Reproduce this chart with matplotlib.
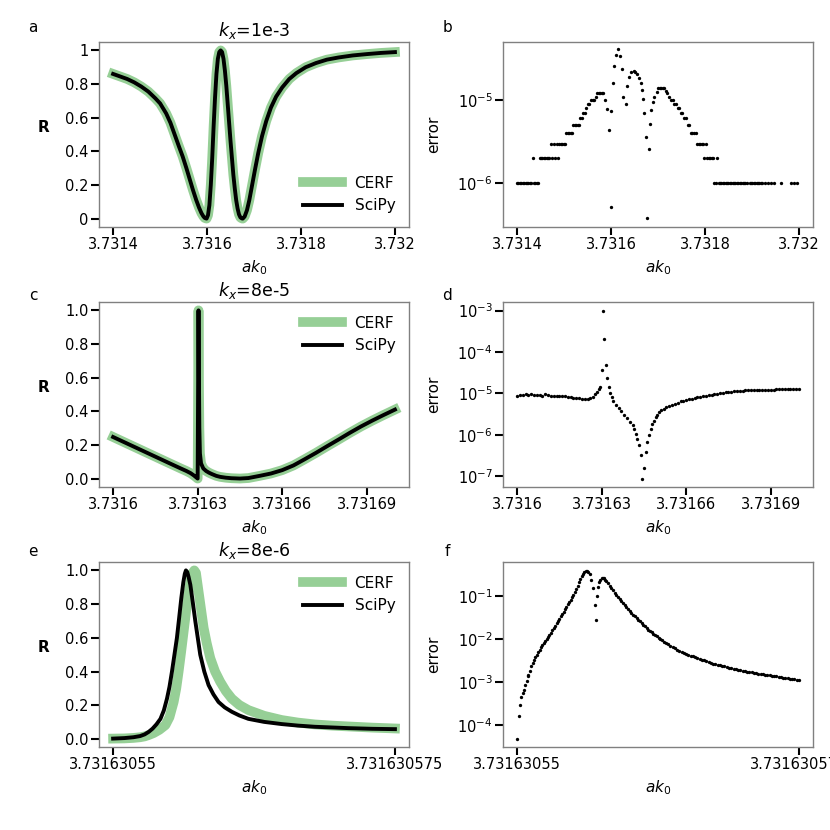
import matplotlib
matplotlib.use('Agg')
import matplotlib.pyplot as plt
import numpy as np
from matplotlib.ticker import NullLocator

# ---- panel a / b : kx = 1e-3, ak0 = 3.7314 + off * 1e-6
a_base = 3.7314
a_off = [0, 15, 30, 45, 60, 75, 90, 100, 113, 122, 131, 140, 148, 156, 163, 170,
         177, 183, 188, 192, 195, 199, 202, 205, 208, 211, 214, 217, 220, 223, 226,
         229, 232, 235, 238, 241, 244, 247, 250, 253, 256, 259, 262, 265, 268, 271,
         274, 276, 280, 285, 290, 296, 302, 309, 317, 326, 336, 347, 360, 375, 390,
         410, 432, 455, 480, 510, 540, 570, 600]
a_R = [0.86, 0.845, 0.83, 0.81, 0.785, 0.755, 0.715, 0.685, 0.625, 0.57, 0.5, 0.43,
       0.37, 0.3, 0.235, 0.17, 0.11, 0.065, 0.033, 0.014, 0.004, 0.0, 0.02, 0.08,
       0.2, 0.36, 0.55, 0.72, 0.86, 0.95, 0.99, 1.0, 0.99, 0.95, 0.88, 0.79, 0.68,
       0.57, 0.46, 0.36, 0.26, 0.18, 0.11, 0.06, 0.025, 0.007, 0.001, 0.0, 0.012,
       0.05, 0.11, 0.2, 0.29, 0.39, 0.49, 0.58, 0.66, 0.725, 0.78, 0.83, 0.865, 0.9,
       0.925, 0.945, 0.958, 0.97, 0.978, 0.985, 0.99]

b_off = [0, 3, 6, 9, 12, 15, 18, 21, 24, 27, 30, 33, 36, 39, 42, 45,
         48, 51, 54, 57, 60, 63, 66, 69, 72, 75, 78, 81, 84, 87, 90, 93, 96, 99, 102,
         105, 108, 111, 114, 117, 120, 123, 126, 129, 132, 135, 138, 141, 144, 147,
         150, 153, 157, 161, 164, 168, 171, 174, 177, 180, 183,
         188, 192, 195, 199, 201, 204, 207, 211, 214, 219, 223, 225, 231, 234, 238,
         243, 248, 252, 256, 259, 263, 266, 268, 271, 275, 276.5, 280, 282, 285, 289,
         292, 297, 301, 304, 307, 310, 313, 317, 320, 323, 328, 331, 335, 338, 342,
         345, 349, 352, 356, 359, 363, 366, 370, 373, 377, 380, 384, 387, 390, 393,
         396, 399, 402, 405, 408, 411, 414, 417, 420, 423, 426, 429, 432, 435, 438,
         441, 444, 447, 450, 453, 456, 459, 462, 465, 468, 471, 474, 477, 480, 483,
         486, 489, 495, 498, 501, 504, 507, 510, 513, 516, 519, 522, 527, 534, 541,
         548, 561, 583, 590, 597]
# error in units of 1e-6
b_err = [1, 1, 1, 1, 1, 1, 1, 1, 1, 1, 1, 2, 1, 1, 1, 1,
         2, 2, 2, 2, 2, 2, 2, 2, 3, 2, 3, 2, 3, 2, 3, 3, 3, 3, 3,
         4, 4, 4, 4, 4, 5, 5, 5, 5, 5, 6, 6, 7, 7, 8,
         9, 9, 10, 10, 10, 11, 12, 12, 12, 12, 12,
         10, 7.7, 4.4, 0.52, 7.4, 15.8, 25.8, 34.7, 40.6, 33.7, 23.6, 11, 9.0, 14.9, 19,
         21.9, 22.5, 21.5, 20.4, 18.5, 15.8, 13.2, 10.2, 6.9, 3.6, 0.38, 2.6, 5.2, 7.6, 9.5,
         11, 12.6, 14, 14, 14, 14, 14, 13, 12, 11, 10, 10, 9, 9, 8,
         8, 7, 7, 6, 6, 5, 5, 4, 4, 4, 4, 3, 3, 3, 3,
         3, 2, 3, 2, 2, 2, 2, 2, 1, 1, 2, 1, 1, 1, 1,
         1, 1, 1, 1, 1, 1, 1, 1, 1, 1, 1, 1, 1, 1, 1,
         1, 1, 1, 1, 1, 1, 1, 1, 1, 1, 1, 1, 1, 1, 1,
         1, 1, 1, 1, 1]

# ---- panel c / d : kx = 8e-5, ak0 = 3.7316 + off * 1e-6
c_base = 3.7316
c_off = [0, 5, 10, 15, 20, 24, 26, 27.5, 28.7, 29.5, 30.0, 30.15, 30.3, 30.45, 30.6,
         30.8, 31.2, 32, 33, 34, 35, 36.6, 38, 40, 42, 45, 48, 52, 56, 60, 64, 68, 72,
         76, 80, 84, 88, 92, 96, 100]
c_R = [0.247, 0.208, 0.169, 0.13, 0.091, 0.06, 0.045, 0.032, 0.018, 0.007, 0.0, 0.5,
       1.0, 0.6, 0.3, 0.15, 0.09, 0.06, 0.045, 0.035, 0.027, 0.016, 0.01, 0.005,
       0.002, 0.0, 0.003, 0.016, 0.03, 0.05, 0.078, 0.115, 0.153, 0.193, 0.232,
       0.272, 0.31, 0.345, 0.378, 0.41]

d_off = [0, 1, 2, 3, 4, 5, 6, 7, 8, 9, 10, 11, 12, 13, 14, 15, 16, 17, 18, 19, 20,
         21, 22, 23, 24, 25, 26, 27, 27.7, 28.3, 28.9, 29.4, 30.0, 30.35, 30.95,
         31.55, 31.9, 32.5, 33.0, 33.6, 34.2, 35, 36, 37, 38, 39, 40, 41, 41.6, 42.1,
         42.7, 43.3, 43.9, 44.5, 45.1, 45.6, 46.2, 46.8, 47.4, 48, 48.6, 49.2, 49.8,
         50.4, 51.2, 52, 53, 54, 55, 56, 57, 58, 59, 60, 61, 62, 63, 64, 65, 66, 67,
         68, 69, 70, 71, 72, 73, 74, 75, 76, 77, 78, 79, 80, 81, 82, 83, 84, 85, 86,
         87, 88, 89, 90, 91, 92, 93, 94, 95, 96, 97, 98, 99, 100]
# error in units of 1e-6
d_err = [8.8, 9.2, 9.0, 9.5, 9.3, 9.6, 9.0, 9.4, 9.1, 8.9, 9.5, 9.0, 8.9, 8.9, 8.8,
         8.7, 8.9, 8.5, 8.3, 8.0, 7.9, 7.7, 7.6, 7.5, 7.4, 7.5, 7.7, 8.3, 9.5, 11,
         12.7, 14, 37, 1000, 210, 49, 23, 14, 10.5, 8.0, 6.4, 5.3, 4.4, 3.7, 3.1, 2.6,
         2.1, 1.7, 1.4, 1.05, 0.78, 0.56, 0.33, 0.085, 0.16, 0.39, 0.67, 1.0, 1.4,
         1.84, 2.2, 2.65, 3.1, 3.5, 3.9, 4.2, 4.6, 5.0, 5.4, 5.7, 6.0, 6.4, 6.7, 7.0,
         7.25, 7.5, 7.75, 8.0, 8.3, 8.6, 8.85, 9.1, 9.35, 9.6, 9.85, 10.1, 10.35, 10.6,
         10.8, 11.0, 11.2, 11.4, 11.55, 11.7, 11.8, 11.9, 12.0, 12.1, 12.2, 12.2, 12.3,
         12.3, 12.4, 12.4, 12.4, 12.5, 12.5, 12.5, 12.5, 12.5, 12.5, 12.5, 12.5, 12.5]

# ---- panel e / f : kx = 8e-6, ak0 = 3.73163055 + off * 1e-10
e_base = 3.73163055
e_off_scipy = [0, 10, 18, 24, 28, 31.6, 35, 38.5, 42, 45, 47.8, 50, 52.2, 54.4, 56.6,
               58.6, 60.5, 62.3, 63.6, 64.6, 65.8, 67, 68.5, 70.7, 72.9, 75.1, 77.3,
               80.9, 84.7, 89, 93.5, 99, 105.3, 112, 120, 134, 149.6, 164, 179, 194,
               208.6, 230, 250]
e_R_scipy = [0.003, 0.006, 0.011, 0.018, 0.028, 0.043, 0.062, 0.088, 0.12, 0.17,
             0.24, 0.31, 0.4, 0.5, 0.6, 0.72, 0.836, 0.93, 0.98, 1.0, 0.99, 0.96,
             0.915, 0.81, 0.7, 0.6, 0.5, 0.4, 0.32, 0.265, 0.22, 0.188, 0.162, 0.14,
             0.12, 0.102, 0.089, 0.08, 0.073, 0.069, 0.065, 0.061, 0.059]
e_off_cerf = [0, 10, 18, 24, 28, 31.6, 36, 41, 46.4, 50, 53.7, 56, 58.1, 60.4, 62.6,
              64.8, 67, 69, 70.5, 72, 73.5, 75.8, 78, 80.3, 83, 86.2, 90.5, 95, 100,
              105.3, 112, 120, 134, 149.6, 164, 179, 194, 208.6, 230, 250]
e_R_cerf = [0.003, 0.004, 0.007, 0.011, 0.016, 0.024, 0.036, 0.055, 0.083, 0.13,
            0.22, 0.3, 0.4, 0.52, 0.64, 0.76, 0.875, 0.95, 0.985, 1.0, 0.985, 0.875,
            0.77, 0.66, 0.57, 0.48, 0.4, 0.34, 0.285, 0.24, 0.202, 0.172, 0.138,
            0.113, 0.098, 0.087, 0.08, 0.075, 0.068, 0.063]

f_off = [0, 1.5, 2.7, 3.8, 5, 6, 7.2, 8.4, 9.6,
         10, 11.25, 12.5, 13.75, 15, 16.25, 17.5, 18.75, 20, 21.25, 22.5, 23.75, 25,
         26.25, 27.5, 28.75, 30, 31.25, 32.5, 33.75, 35, 36.25, 37.5, 38.75, 40, 41.25,
         42.5, 43.75, 45, 46.25, 47.5, 48.75, 50, 51.25, 52.5, 53.75, 55, 56.25, 57.5,
         58.7, 59.8, 61, 62.2, 63.3, 64.3, 65.7, 67.2, 68.7, 70.2, 71.1, 72.2, 73.1,
         74, 75, 76, 77, 78, 79,
         80.5, 82, 83.5, 85, 86.5, 88, 89.5, 91, 92.5, 94, 95.5, 97, 98.5, 100, 101.5,
         103, 104.5, 106, 107.5, 109, 110.5, 112, 113.5, 115, 116.5, 118, 119.5, 121,
         122.5, 124, 125.5, 127, 128.5, 130,
         132, 134, 136, 138, 140, 142, 144, 146, 148, 150, 152, 154, 156, 158, 160,
         162, 164, 166, 168, 170, 172, 174, 176, 178, 180, 182, 184, 186, 188, 190,
         192, 194, 196, 198, 200, 202, 204, 206, 208, 210, 212, 214, 216, 218, 220,
         222, 224, 226, 228, 230, 232, 234, 236, 238, 240, 242, 244, 246, 248, 250]
# log10 of the error
f_log_err = [-4.34, -3.80, -3.54, -3.36, -3.26, -3.18, -3.07, -2.98, -2.87,
             -2.84, -2.74, -2.64, -2.57, -2.50, -2.43, -2.37, -2.305, -2.25, -2.20,
             -2.15, -2.105, -2.06, -2.015, -1.965, -1.91, -1.855, -1.80, -1.75, -1.695,
             -1.64, -1.585, -1.53, -1.475, -1.42, -1.365, -1.31, -1.255, -1.20, -1.14,
             -1.085, -1.03, -0.97, -0.905, -0.835, -0.76, -0.685, -0.61, -0.54,
             -0.488, -0.45, -0.426, -0.42, -0.449, -0.495, -0.62, -0.824, -1.215,
             -1.553, -1.0, -0.796, -0.678, -0.62, -0.594, -0.585, -0.594, -0.62, -0.655,
             -0.709, -0.763, -0.817, -0.871, -0.924, -0.972, -1.02, -1.068, -1.116,
             -1.164, -1.212, -1.26, -1.308, -1.356, -1.402, -1.44, -1.478, -1.517,
             -1.555, -1.593, -1.632, -1.67, -1.708, -1.746, -1.783, -1.815, -1.846,
             -1.878, -1.91, -1.941, -1.973, -2.004, -2.036, -2.067,
             -2.1, -2.13, -2.162, -2.193, -2.224, -2.255, -2.287, -2.316, -2.335,
             -2.353, -2.372, -2.39, -2.409, -2.428, -2.446, -2.465, -2.483, -2.502,
             -2.521, -2.539, -2.558, -2.577, -2.593, -2.605, -2.618, -2.63, -2.643,
             -2.656, -2.668, -2.681, -2.693, -2.706, -2.719, -2.731, -2.744, -2.756,
             -2.769, -2.776, -2.784, -2.793, -2.801, -2.81, -2.818, -2.826, -2.835,
             -2.843, -2.852, -2.86, -2.868, -2.877, -2.885, -2.894, -2.902, -2.91,
             -2.919, -2.927, -2.936, -2.944, -2.952, -2.96]

green = '#96cf96'
fs = 10.5

fig = plt.figure(figsize=(8.3, 8.3), dpi=100)
W, H = 0.3735, 0.2229
lefts = [0.1193, 0.606]
bottoms = [0.7265, 0.4133, 0.100]
axes = [[fig.add_axes([l, b, W, H]) for l in lefts] for b in bottoms]


def style(ax):
    for s in ax.spines.values():
        s.set_color('#808080')
        s.set_linewidth(1.0)
    ax.tick_params(direction='out', length=5.5, width=1.5, color='black',
                   labelsize=fs, pad=2)
    ax.set_xlabel('$ak_0$', fontsize=fs + 0.5)


def r_panel(ax, x_cerf, y_cerf, x_scipy, y_scipy, title, yticks, ylabels, loc):
    ax.plot(x_cerf, y_cerf, color=green, lw=7, label='CERF')
    ax.plot(x_scipy, y_scipy, color='black', lw=2.8, label='SciPy')
    ax.set_title(title, fontsize=12.5, pad=4)
    ax.set_yticks(yticks)
    ax.set_yticklabels(ylabels)
    ax.set_ylabel('R', fontweight='bold', rotation=0, fontsize=fs + 0.5,
                  ha='center', va='center')
    ax.yaxis.set_label_coords(-0.18, 0.54)
    ax.legend(frameon=False, loc=loc, fontsize=fs + 0.5, handlelength=2.6)
    style(ax)


def err_panel(ax, x, err):
    ax.plot(x, err, 'o', ms=2.4, mew=0, color='black')
    ax.set_yscale('log')
    ax.yaxis.set_minor_locator(NullLocator())
    ax.set_ylabel('error', fontsize=fs + 0.5)
    ax.yaxis.set_label_coords(-0.2, 0.5)
    style(ax)


# row 1 (CERF and SciPy agree to within the error shown in b)
xa = a_base + np.array(a_off) * 1e-6
r_panel(axes[0][0], xa, a_R, xa, a_R, '$k_x$=1e-3', [0, 0.2, 0.4, 0.6, 0.8, 1],
        ['0', '0.2', '0.4', '0.6', '0.8', '1'], 'lower right')
xb = a_base + np.array(b_off) * 1e-6
err_panel(axes[0][1], xb, np.array(b_err) * 1e-6)
axes[0][1].set_ylim(2.99e-7, 4.97e-5)
for ax in axes[0]:
    ax.set_xticks([3.7314, 3.7316, 3.7318, 3.732])
    ax.set_xticklabels(['3.7314', '3.7316', '3.7318', '3.732'])
    ax.set_xlim(a_base - 30e-6, a_base + 630e-6)

# row 2
xc = c_base + np.array(c_off) * 1e-6
r_panel(axes[1][0], xc, c_R, xc, c_R, '$k_x$=8e-5', [0, 0.2, 0.4, 0.6, 0.8, 1.0],
        ['0.0', '0.2', '0.4', '0.6', '0.8', '1.0'], 'upper right')
xd = c_base + np.array(d_off) * 1e-6
err_panel(axes[1][1], xd, np.array(d_err) * 1e-6)
axes[1][1].set_ylim(5.55e-8, 1.61e-3)
for ax in axes[1]:
    ax.set_xticks([3.7316, 3.73163, 3.73166, 3.73169])
    ax.set_xticklabels(['3.7316', '3.73163', '3.73166', '3.73169'])
    ax.set_xlim(c_base - 5e-6, c_base + 105e-6)

# row 3
xe_c = e_base + np.array(e_off_cerf) * 1e-10
xe_s = e_base + np.array(e_off_scipy) * 1e-10
r_panel(axes[2][0], xe_c, e_R_cerf, xe_s, e_R_scipy, '$k_x$=8e-6',
        [0, 0.2, 0.4, 0.6, 0.8, 1.0],
        ['0.0', '0.2', '0.4', '0.6', '0.8', '1.0'], 'upper right')
xf = e_base + np.array(f_off) * 1e-10
err_panel(axes[2][1], xf, 10 ** np.array(f_log_err))
axes[2][1].set_ylim(3.03e-5, 0.615)
for ax in axes[2]:
    ax.set_xticks([3.73163055, 3.731630575])
    ax.set_xticklabels(['3.73163055', '3.731630575'])
    ax.set_xlim(e_base - 12.5e-10, e_base + 262.5e-10)

# panel letters
for letter, (px, py) in zip('abcdef', [(33, 28), (447, 28), (33, 295), (447, 295),
                                        (33, 551), (447, 551)]):
    fig.text(px / 830, 1 - py / 830, letter, fontsize=fs + 0.5, ha='center', va='center')

fig.savefig('out.png', dpi=100)
